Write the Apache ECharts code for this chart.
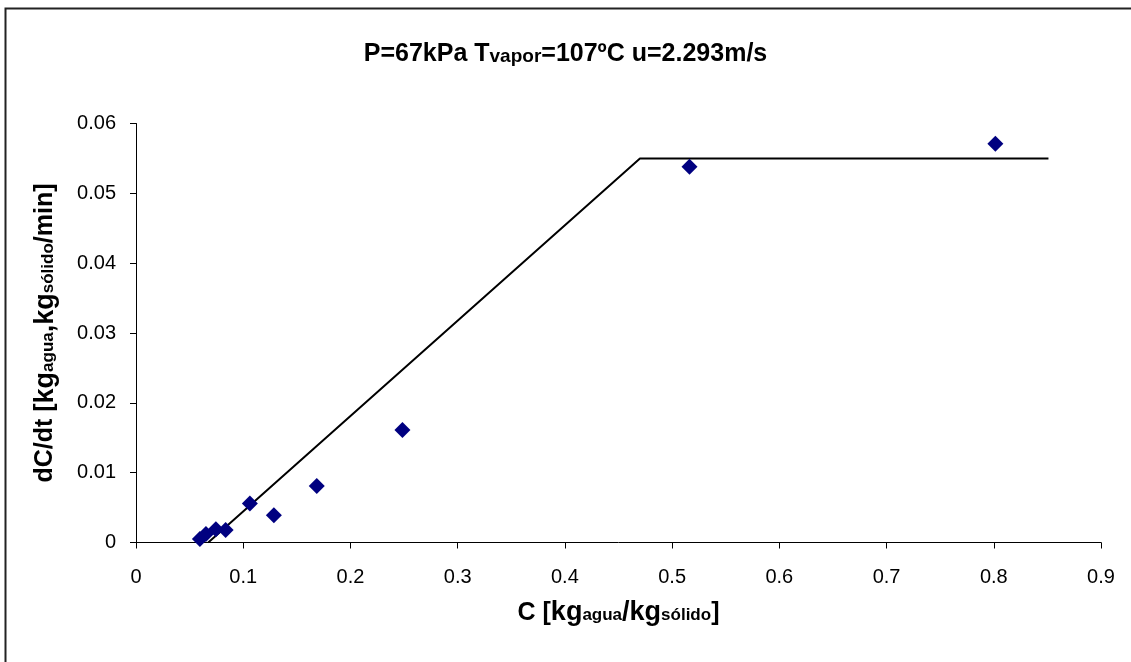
<!DOCTYPE html>
<html>
<head>
<meta charset="utf-8">
<script src="https://cdn.jsdelivr.net/npm/echarts@6/dist/echarts.min.js"></script>
<style>
  html, body { margin: 0; padding: 0; background: #fff; }
  #chart-ctn { width: 1131px; height: 662px; }
</style>
</head>
<body>
<div id="chart-ctn"></div>
<script>
// measured points: C [kg agua/kg solido] vs dC/dt
var cValues = [0.0596, 0.0652, 0.0745, 0.0836, 0.1062, 0.1286, 0.1686, 0.2485, 0.5162, 0.8015];
var rateValues = [0.0005, 0.0012, 0.0019, 0.0018, 0.0056, 0.0039, 0.0081, 0.0161, 0.0538, 0.0571];

// drying rate model line
var lineC = [0.0674, 0.47, 0.851];
var lineRate = [0, 0.055, 0.055];

var xTicks = ['0', '0.1', '0.2', '0.3', '0.4', '0.5', '0.6', '0.7', '0.8', '0.9'];
var yTicks = ['0', '0.01', '0.02', '0.03', '0.04', '0.05', '0.06'];

var myChart = echarts.init(document.getElementById('chart-ctn'));

var pts = [];
for (var i = 0; i < cValues.length; i++) {
  pts.push([cValues[i], rateValues[i]]);
}
var linePts = [];
for (var j = 0; j < lineC.length; j++) {
  linePts.push([lineC[j], lineRate[j]]);
}

var font = 'Liberation Sans, Arial, sans-serif';
var big = { fontFamily: font, fontWeight: 'bold', fontSize: 25, color: '#000' };
var small = { fontFamily: font, fontWeight: 'bold', fontSize: 17, color: '#000', padding: [5, 0, 0, 0] };
var kg = { fontFamily: font, fontWeight: 'bold', fontSize: 27, color: '#000' };

var option = {
  animation: false,
  backgroundColor: '#fff',
  graphic: [{
    type: 'rect',
    shape: { x: 5.5, y: 8.5, width: 1200, height: 700 },
    style: { fill: 'none', stroke: '#222', lineWidth: 2 }
  }],
  title: {
    left: 'center',
    top: 37,
    text: '{b|P=67kPa T}{s|vapor}{b|=107ºC u=2.293m/s}',
    textStyle: {
      rich: { b: big, s: { fontFamily: font, fontWeight: 'bold', fontSize: 19, color: '#000', padding: [5, 0, 0, 0] } }
    }
  },
  grid: { left: 136, right: 30, top: 123.5, bottom: 119.5 },
  xAxis: {
    type: 'value',
    min: 0, max: 0.9, interval: 0.1,
    name: '{b|C [}{k|kg}{s|agua}{k|/kg}{s|sólido}{b|]}',
    nameLocation: 'middle',
    nameGap: 57,
    nameTextStyle: { rich: { b: big, k: kg, s: small } },
    axisLine: { lineStyle: { color: '#000', width: 1 } },
    axisTick: { length: 6, lineStyle: { color: '#000' } },
    splitLine: { show: false },
    axisLabel: {
      fontFamily: font, fontSize: 20, color: '#000', margin: 25,
      formatter: function (v) { return xTicks[Math.round(v * 10)]; }
    }
  },
  yAxis: {
    type: 'value',
    min: 0, max: 0.06, interval: 0.01,
    name: '{b|dC/dt [}{k|kg}{s|agua}{k|,kg}{s|sólido}{b|/min]}',
    nameLocation: 'middle',
    nameRotate: 90,
    nameGap: 77,
    nameTextStyle: { rich: { b: big, k: kg, s: small } },
    axisLine: { show: true, lineStyle: { color: '#000', width: 1 } },
    axisTick: { show: true, length: 6, lineStyle: { color: '#000' } },
    splitLine: { show: false },
    axisLabel: {
      fontFamily: font, fontSize: 20, color: '#000', margin: 20,
      formatter: function (v) { return yTicks[Math.round(v * 100)]; }
    }
  },
  series: [
    {
      type: 'line',
      data: linePts,
      symbol: 'none',
      lineStyle: { color: '#000', width: 2 },
      z: 2
    },
    {
      type: 'scatter',
      data: pts,
      symbol: 'diamond',
      symbolSize: 16,
      itemStyle: { color: '#000080', opacity: 1 },
      z: 3
    }
  ]
};

myChart.setOption(option);
</script>
</body>
</html>
